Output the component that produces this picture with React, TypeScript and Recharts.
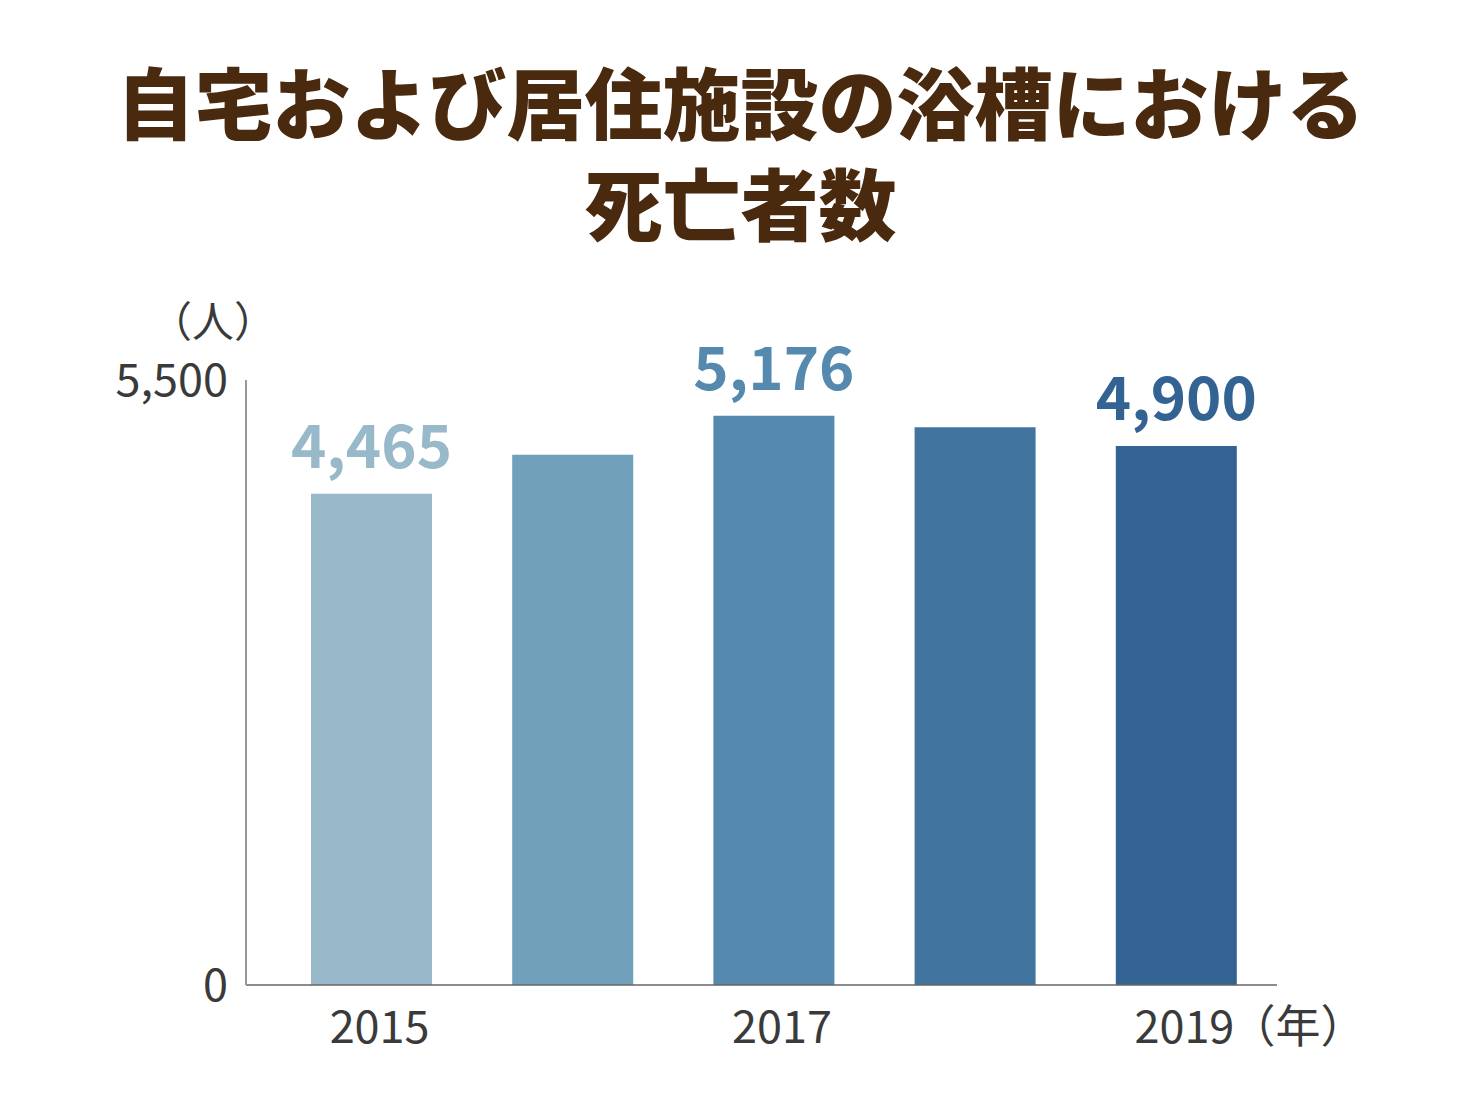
import React from "react";
import { BarChart, Bar, XAxis, YAxis, Cell, LabelList } from "recharts";

const years = ["2015", "2016", "2017", "2018", "2019"];
const deaths = [4465, 4820, 5176, 5070, 4900];
const showValue = [true, false, true, false, true];
const barColors = ["#97b9c9", "#71a0bb", "#5589ae", "#41749e", "#336393"];
const yTicks = [0, 5500];

const FONT = '"Noto Sans CJK JP", "Noto Sans", sans-serif';

const chartData = years.map((year, i) => ({
  year,
  deaths: deaths[i],
  label: showValue[i] ? deaths[i].toLocaleString("en-US") : "",
}));

const YearTick = (props: any) => {
  const { x, y, payload } = props;
  const isLast = payload.value === years[years.length - 1];
  return (
    <g>
      <text
        x={x + 8}
        y={y + 50}
        textAnchor="middle"
        fill="#3a3a3a"
        fontSize={45}
        fontFamily={FONT}
      >
        {payload.value}
      </text>
      {isLast && (
        <text x={x + 54} y={y + 50} fill="#3a3a3a" fontSize={45} fontFamily={FONT}>
          （年）
        </text>
      )}
    </g>
  );
};

const ValueLabel = (props: any) => {
  const { x, y, width, value, index } = props;
  if (!value) return null;
  return (
    <text
      x={x + width / 2}
      y={y - 26}
      textAnchor="middle"
      fill={barColors[index]}
      fontSize={60}
      fontWeight={700}
      fontFamily={FONT}
    >
      {value}
    </text>
  );
};

export default function App() {
  return (
    <div
      style={{
        position: "absolute",
        left: 0,
        top: 0,
        width: 1481,
        height: 1118,
        background: "#fff",
        fontFamily: FONT,
      }}
    >
      <div
        style={{
          position: "absolute",
          left: 0,
          top: 50,
          width: 1481,
          textAlign: "center",
          color: "#4a2a0e",
          fontSize: 78,
          fontWeight: 900,
          lineHeight: "101px",
        }}
      >
        自宅および居住施設の浴槽における
        <br />
        死亡者数
      </div>
      <div
        style={{
          position: "absolute",
          left: 150,
          top: 300,
          color: "#3a3a3a",
          fontSize: 42,
          lineHeight: "38px",
        }}
      >
        （人）
      </div>
      <BarChart
        width={1481}
        height={1118}
        data={chartData}
        margin={{ top: 380, right: 204, bottom: 0, left: 0 }}
        barSize={121}
      >
        <XAxis
          dataKey="year"
          interval={1}
          tickLine={false}
          axisLine={{ stroke: "#666", strokeWidth: 1.5 }}
          padding={{ left: 25, right: 0 }}
          tick={<YearTick />}
          height={133}
        />
        <YAxis
          domain={[0, 5500]}
          ticks={yTicks}
          width={246}
          tickLine={false}
          tickSize={0}
          tickMargin={18}
          axisLine={{ stroke: "#999", strokeWidth: 2 }}
          tickFormatter={(v: number) => v.toLocaleString("en-US")}
          tick={{ fill: "#3a3a3a", fontSize: 45, fontFamily: FONT }}
        />
        <Bar dataKey="deaths" isAnimationActive={false}>
          {chartData.map((d, i) => (
            <Cell key={d.year} fill={barColors[i]} />
          ))}
          <LabelList dataKey="label" content={<ValueLabel />} />
        </Bar>
      </BarChart>
    </div>
  );
}
